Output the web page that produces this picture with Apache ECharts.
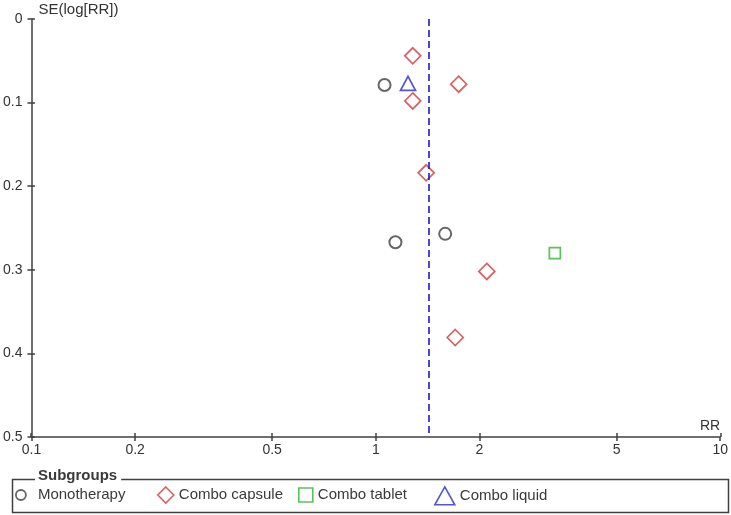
<!DOCTYPE html>
<html>
<head>
<meta charset="utf-8">
<script src="https://cdn.jsdelivr.net/npm/echarts@6/dist/echarts.min.js"></script>
<style>
  html, body { margin: 0; padding: 0; background: #fff; }
  #chart { width: 731px; height: 515px; }
</style>
</head>
<body>
<div id="chart"></div>
<script>
// values: RR on log axis, SE(log[RR]) inverted
const xTicks = [0.1, 0.2, 0.5, 1, 2, 5, 10];
const pooledRR = 1.42;

const monoRR = [1.06, 1.14, 1.59];
const monoSE = [0.079, 0.267, 0.257];

const capsuleRR = [1.28, 1.74, 1.28, 1.40, 2.10, 1.70];
const capsuleSE = [0.044, 0.078, 0.098, 0.184, 0.302, 0.381];

const tabletRR = [3.31];
const tabletSE = [0.280];

const liquidRR = [1.24];
const liquidSE = [0.077];

const font = 'Liberation Sans, Arial, sans-serif';
const axisColor = '#404040';
const textColor = '#333';

const pairs = (xs, ys) => xs.map((x, i) => [x, ys[i]]);

const chart = echarts.init(document.getElementById('chart'));

const baseX = {
  type: 'log', logBase: 10, min: 0.1, max: 10, position: 'bottom',
  splitLine: { show: false },
  minorTick: { show: false },
};
const baseY = {
  type: 'value', min: 0, max: 0.5, interval: 0.1, inverse: true, position: 'left',
  splitLine: { show: false },
};

const legendBase = {
  orient: 'horizontal', top: 486, padding: 0,
  textStyle: { fontFamily: font, fontSize: 15, color: '#3a3a3a', lineHeight: 18 },
  selectedMode: false,
};

const gridBox = { left: 31, right: 10, top: 19, bottom: 78, containLabel: false };

chart.setOption({
  animation: false,
  backgroundColor: '#fff',
  // second grid only carries the inner half of the crossing ticks
  grid: [gridBox, gridBox],
  xAxis: [
    {
      ...baseX, gridIndex: 0,
      name: 'RR', nameLocation: 'end', nameGap: 0,
      nameTextStyle: { fontFamily: font, fontSize: 14, color: textColor, align: 'right', verticalAlign: 'bottom', padding: [0, 0, 4, 0] },
      axisLine: { show: true, onZero: false, lineStyle: { color: axisColor, width: 1.5 } },
      axisTick: { show: true, length: 4, lineStyle: { color: axisColor, width: 1.5 }, customValues: xTicks },
      axisLabel: { show: true, margin: 6, fontFamily: font, fontSize: 14, color: textColor, customValues: xTicks, formatter: v => String(v) },
    },
    {
      ...baseX, gridIndex: 1,
      axisLine: { show: false, onZero: false },
      axisTick: { show: true, inside: true, length: 4, lineStyle: { color: axisColor, width: 1.5 }, customValues: xTicks },
      axisLabel: { show: false },
    },
  ],
  yAxis: [
    {
      ...baseY, gridIndex: 0,
      name: 'SE(log[RR])', nameLocation: 'start', nameGap: 0,
      nameTextStyle: { fontFamily: font, fontSize: 15, color: textColor, align: 'left', verticalAlign: 'bottom', padding: [0, 0, 2, 7] },
      axisLine: { show: true, onZero: false, lineStyle: { color: axisColor, width: 1.5 } },
      axisTick: { show: true, length: 4, lineStyle: { color: axisColor, width: 1.5 } },
      axisLabel: { show: true, margin: 9, fontFamily: font, fontSize: 14, color: textColor, formatter: v => String(+v.toFixed(1)) },
    },
    {
      ...baseY, gridIndex: 1,
      axisLine: { show: false, onZero: false },
      axisTick: { show: true, inside: true, length: 4, lineStyle: { color: axisColor, width: 1.5 } },
      axisLabel: { show: false },
    },
  ],
  legend: [
    { ...legendBase, left: 15, itemWidth: 10, itemHeight: 12, data: [{ name: 'Monotherapy', icon: 'circle', itemStyle: { color: '#fff', borderColor: '#404040', borderWidth: 1.8 }, textStyle: { padding: [0, 0, 0, 7] } }] },
    { ...legendBase, left: 157, itemWidth: 16, itemHeight: 16, data: [{ name: 'Combo capsule', icon: 'diamond', itemStyle: { color: '#fff', borderColor: '#d03a3a', borderWidth: 1.6 } }] },
    { ...legendBase, left: 298, itemWidth: 14, itemHeight: 14, data: [{ name: 'Combo tablet', icon: 'rect', itemStyle: { color: '#fff', borderColor: '#33b033', borderWidth: 1.6 } }] },
    { ...legendBase, left: 434, itemWidth: 20, itemHeight: 18, data: [{ name: 'Combo liquid', icon: 'triangle', itemStyle: { color: '#fff', borderColor: '#2a2ac8', borderWidth: 1.6 } }] },
  ],
  graphic: [
    {
      type: 'rect', left: 10, top: 477, z: 90, silent: true,
      shape: { width: 716, height: 33 },
      style: { fill: 'none', stroke: '#404040', lineWidth: 1.5 },
    },
    {
      type: 'text', left: 35, top: 468, z: 100, silent: true,
      style: {
        text: 'Subgroups', fontFamily: font, fontSize: 15, fontWeight: 'bold', fill: '#3a3a3a',
        backgroundColor: '#fff', padding: [0, 4, 0, 3],
      },
    },
  ],
  series: [
    {
      name: 'Monotherapy', type: 'scatter', data: pairs(monoRR, monoSE),
      symbol: 'circle', symbolSize: 12,
      itemStyle: { color: 'rgba(255,255,255,0)', borderColor: '#404040', borderWidth: 2 },
      markLine: {
        silent: true, symbol: 'none', label: { show: false },
        lineStyle: { color: '#1c1cc0', width: 1.6, type: [7, 4] },
        data: [{ xAxis: pooledRR }],
      },
    },
    {
      name: 'Combo capsule', type: 'scatter', data: pairs(capsuleRR, capsuleSE),
      symbol: 'diamond', symbolSize: 16,
      itemStyle: { color: 'rgba(255,255,255,0)', borderColor: '#d03a3a', borderWidth: 1.7 },
    },
    {
      name: 'Combo tablet', type: 'scatter', data: pairs(tabletRR, tabletSE),
      symbol: 'rect', symbolSize: 11,
      itemStyle: { color: 'rgba(255,255,255,0)', borderColor: '#33b033', borderWidth: 1.7 },
    },
    {
      name: 'Combo liquid', type: 'scatter', data: pairs(liquidRR, liquidSE),
      symbol: 'triangle', symbolSize: [15, 14],
      itemStyle: { color: 'rgba(255,255,255,0)', borderColor: '#2a2ac8', borderWidth: 1.7 },
    },
  ],
});
</script>
</body>
</html>
